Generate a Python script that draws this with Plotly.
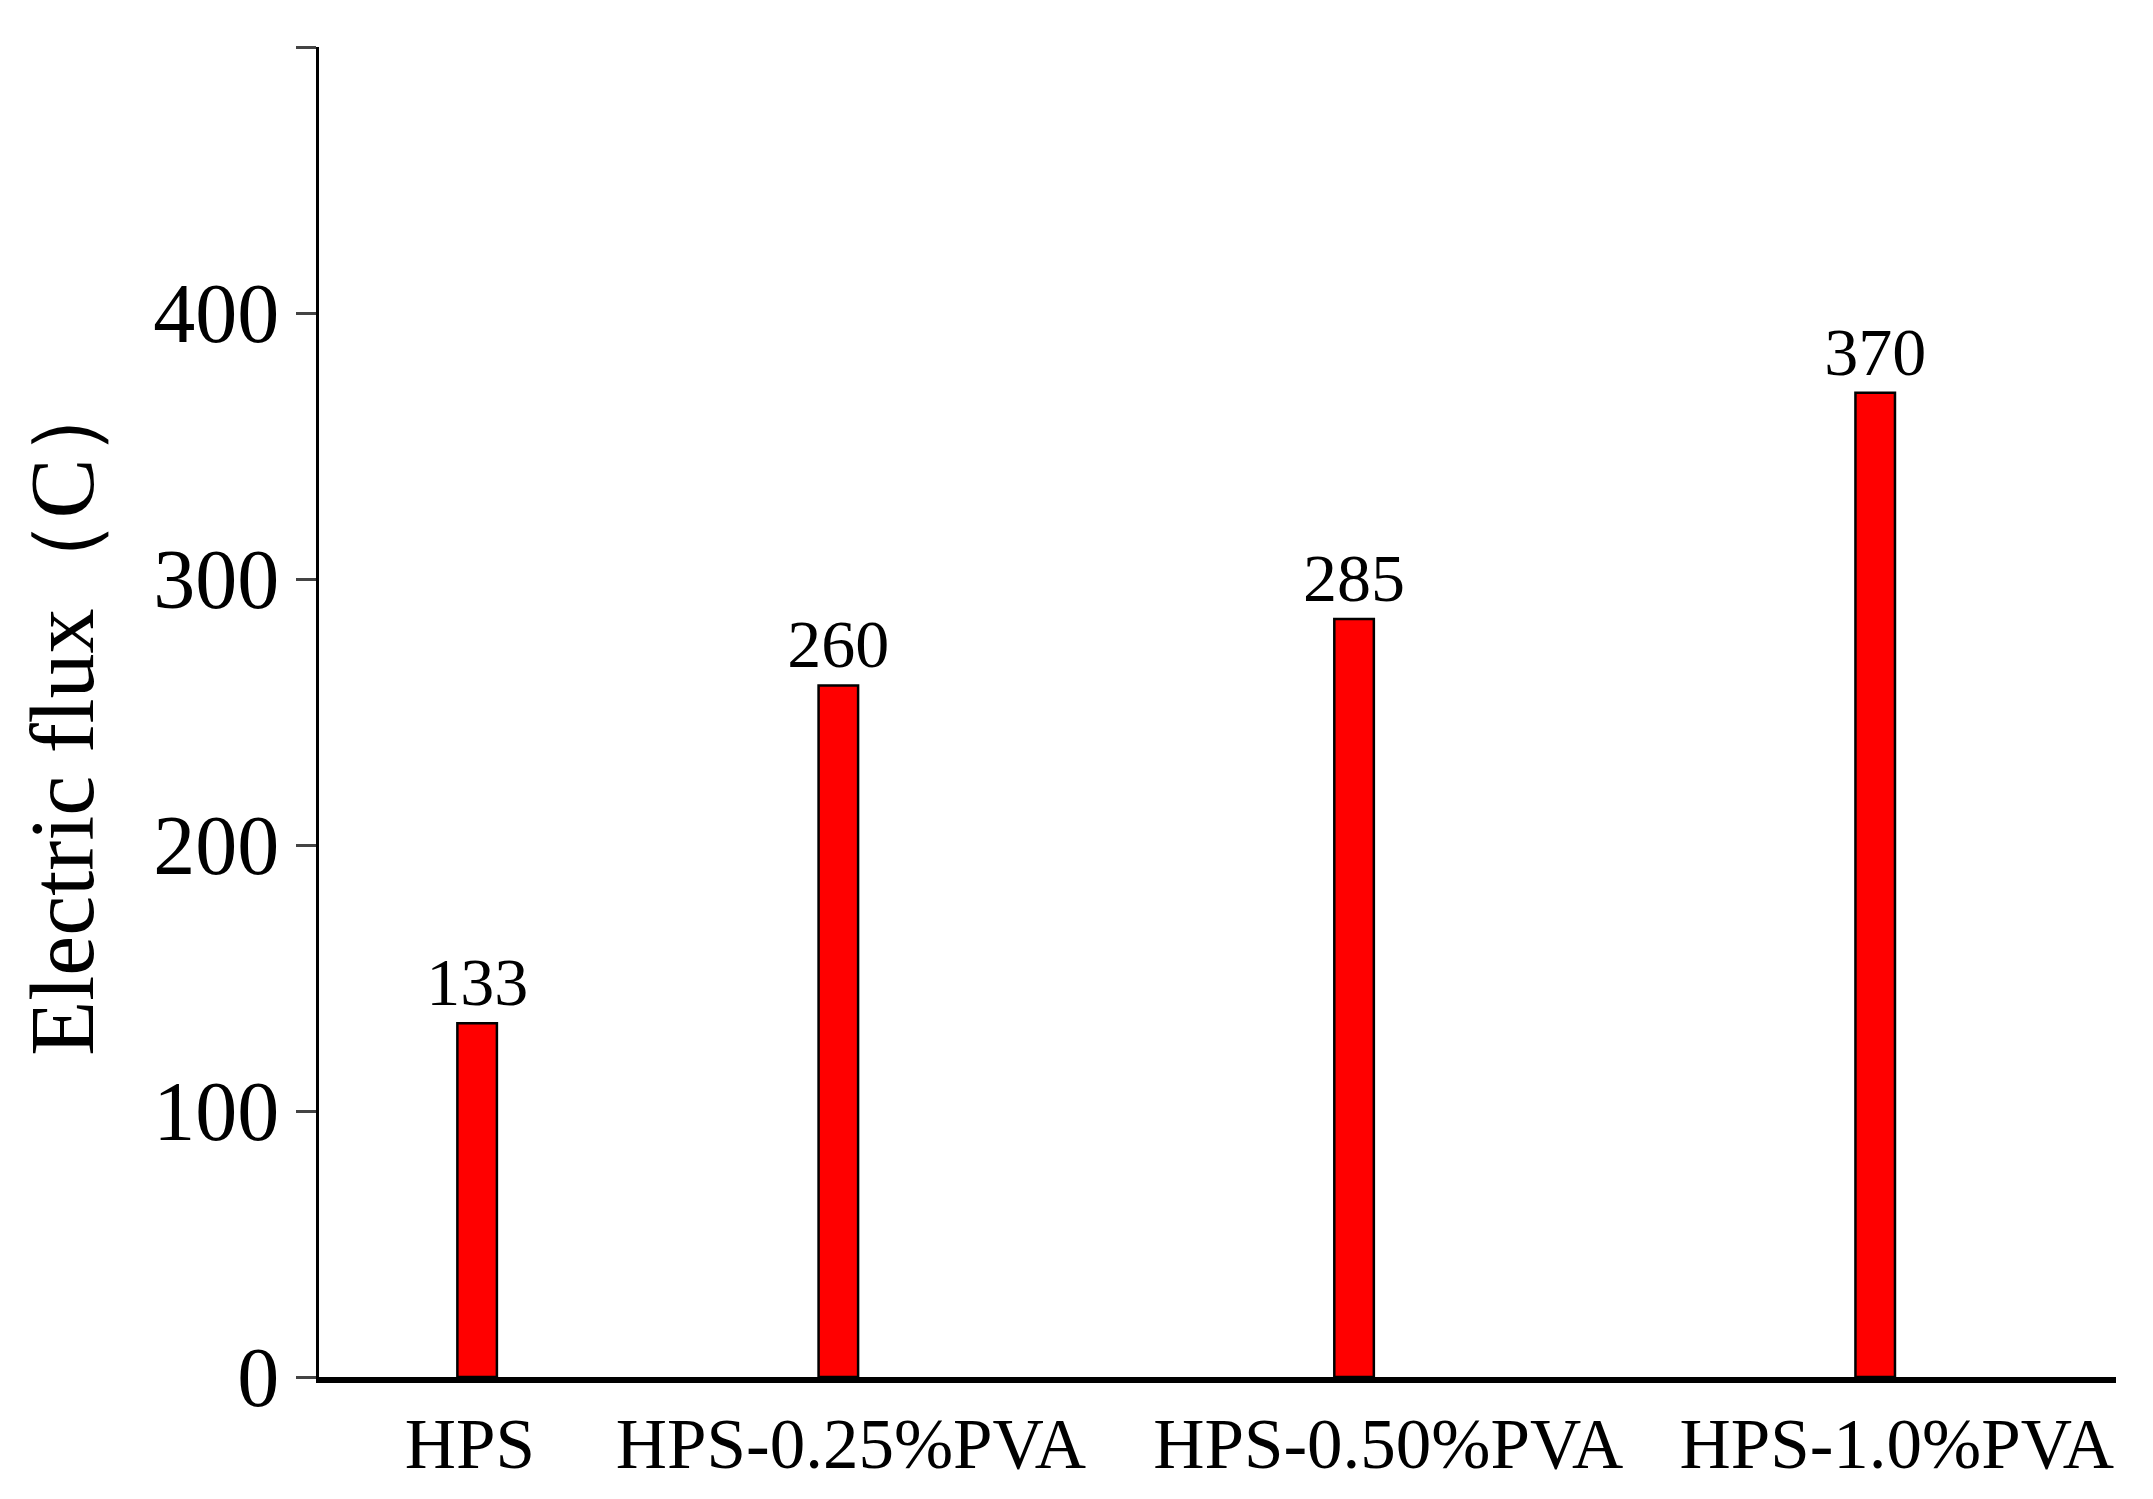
import plotly.graph_objects as go

categories = ["HPS", "HPS-0.25%PVA", "HPS-0.50%PVA", "HPS-1.0%PVA"]
values = [133, 260, 285, 370]
bar_pos = [0.88, 2.89, 5.76, 8.66]
label_pos = [0.84, 2.96, 5.95, 8.78]
yticks = [0, 100, 200, 300, 400, 500]

font = "Liberation Serif"
fig = go.Figure(go.Bar(
    x=bar_pos, y=values, width=0.22,
    marker=dict(color="#ff0000", line=dict(color="black", width=2.5)),
    text=[str(v) for v in values], textposition="outside", cliponaxis=False,
    constraintext="none",
    textfont=dict(family=font, size=68, color="black"),
))
fig.update_layout(
    width=2153, height=1499, plot_bgcolor="white", paper_bgcolor="white",
    margin=dict(l=311, r=45, t=39, b=130), showlegend=False,
    xaxis=dict(range=[0, 10], tickvals=label_pos, ticktext=categories, ticks="",
               showline=True, linecolor="black", linewidth=6, showgrid=False,
               zeroline=False, tickfont=dict(family=font, size=71, color="black")),
    yaxis=dict(range=[0, 500], tickvals=yticks, ticks="outside", ticklen=20, tickwidth=3,
               showline=True, linecolor="black", linewidth=3, showgrid=False, zeroline=False,
               tickfont=dict(family=font, size=84, color="black"),
               title=dict(text="Electric flux（C）", font=dict(family=font, size=90, color="black"), standoff=30)),
)
fig.write_html("out.html")
